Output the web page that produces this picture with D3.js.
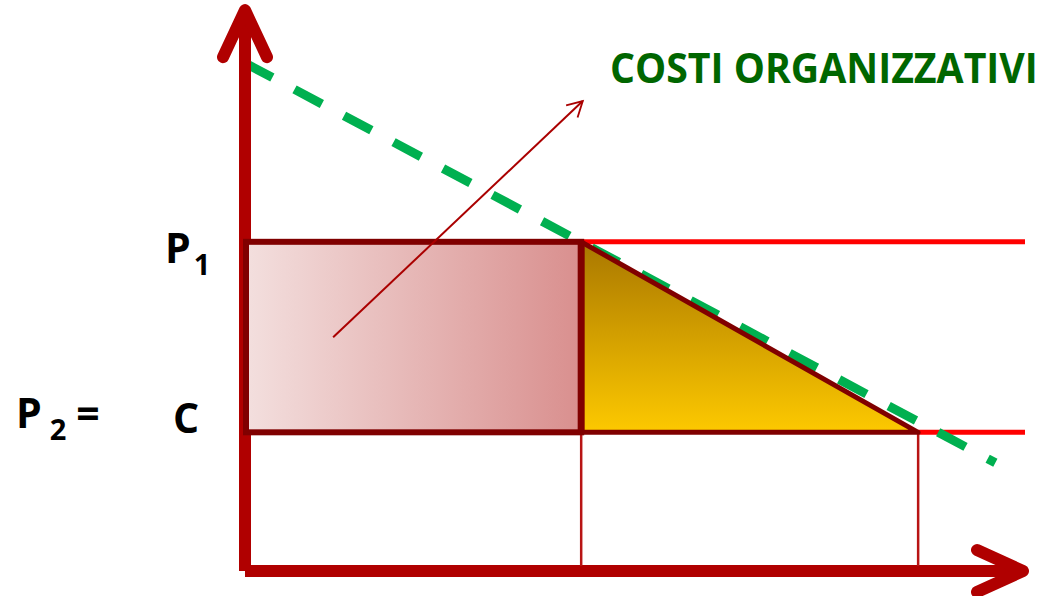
<!DOCTYPE html>
<html>
<head>
<meta charset="utf-8">
<script src="https://cdn.jsdelivr.net/npm/d3@7"></script>
<style>
  html, body { margin: 0; padding: 0; background: #fff; }
  svg { display: block; font-family: 'Open Sans', sans-serif; }
</style>
</head>
<body>
<svg class="diagram" width="1053" height="596"></svg>
<script>
// price levels (P1 and C = P2), quantities where they meet the demand curve
const priceLevels = [64.8, 27.3];
const priceNames = ['P1', 'C'];
const quantityLevels = [43.1, 86.3];
// demand / organisational cost line (dashed)
const demandLine = [[0, 100], [96.2, 21.3]];
// annotation arrow pointing at the label
const annotationArrow = [[11.3, 46], [43.3, 92.5]];
const axisMax = { q: 100, p: 110.8 };
const title = 'COSTI ORGANIZZATIVI';

const svg = d3.select('.diagram');

const x = d3.scaleLinear().domain([0, 100]).range([245, 1025]);
const y = d3.scaleLinear().domain([0, 100]).range([571, 63]);

const line = d3.line().x(d => x(d[0])).y(d => y(d[1]));

const defs = svg.append('defs');

const rectGrad = defs.append('linearGradient')
    .attr('id', 'rectGrad')
    .attr('x1', '0%').attr('x2', '100%').attr('y1', '0%').attr('y2', '0%');
rectGrad.append('stop').attr('offset', '0%').attr('stop-color', '#f3dfde');
rectGrad.append('stop').attr('offset', '100%').attr('stop-color', '#d98f8e');

const triGrad = defs.append('linearGradient')
    .attr('id', 'triGrad')
    .attr('x1', '0%').attr('x2', '0%').attr('y1', '0%').attr('y2', '100%');
triGrad.append('stop').attr('offset', '0%').attr('stop-color', '#a97700');
triGrad.append('stop').attr('offset', '100%').attr('stop-color', '#fdc900');

defs.append('marker')
    .attr('id', 'openArrow')
    .attr('viewBox', '0 0 12 12')
    .attr('refX', 10).attr('refY', 6)
    .attr('markerWidth', 10).attr('markerHeight', 10)
    .attr('markerUnits', 'strokeWidth')
    .attr('orient', 'auto')
    .append('path')
    .attr('d', 'M1,1 L10,6 L1,11')
    .attr('fill', 'none')
    .attr('stroke', '#aa0000')
    .attr('stroke-width', 1.1);

const [p1, c] = priceLevels;
const [q1, q2] = quantityLevels;

// red horizontal price lines
svg.append('line')
    .attr('x1', x(q1)).attr('x2', x(axisMax.q))
    .attr('y1', y(p1)).attr('y2', y(p1))
    .attr('stroke', '#ff0000').attr('stroke-width', 5);
svg.append('line')
    .attr('x1', x(q2)).attr('x2', x(axisMax.q))
    .attr('y1', y(c)).attr('y2', y(c))
    .attr('stroke', '#ff0000').attr('stroke-width', 5);

// dashed green line
svg.append('path')
    .attr('d', line(demandLine))
    .attr('fill', 'none')
    .attr('stroke', '#00b050')
    .attr('stroke-width', 9)
    .attr('stroke-dasharray', '31 25.1');

// axes with arrow heads
const axisColor = '#b00000';
const ax = svg.append('g')
    .attr('fill', 'none')
    .attr('stroke', axisColor)
    .attr('stroke-width', 12)
    .attr('stroke-linecap', 'round')
    .attr('stroke-linejoin', 'round');

ax.append('line')
    .attr('x1', x(0)).attr('x2', x(0))
    .attr('y1', y(0)).attr('y2', y(axisMax.p) + 4)
    .attr('stroke-linecap', 'butt');
ax.append('polyline')
    .attr('points', [
        [x(0) - 22, y(axisMax.p) + 49],
        [x(0), y(axisMax.p) + 2],
        [x(0) + 22, y(axisMax.p) + 49]
    ].join(' '));

ax.append('line')
    .attr('x1', x(0)).attr('x2', x(axisMax.q) - 4)
    .attr('y1', y(0)).attr('y2', y(0))
    .attr('stroke-linecap', 'butt');
ax.append('polyline')
    .attr('points', [
        [x(axisMax.q) - 48, y(0) - 21],
        [x(axisMax.q) - 2, y(0)],
        [x(axisMax.q) - 48, y(0) + 21]
    ].join(' '));

// thin drop lines
quantityLevels.forEach(q => {
    svg.append('line')
        .attr('x1', x(q)).attr('x2', x(q))
        .attr('y1', y(c)).attr('y2', y(0) - 5)
        .attr('stroke', '#b81414')
        .attr('stroke-width', 2.5);
});

// rectangle P1 - C
svg.append('rect')
    .attr('x', x(0) + 1)
    .attr('y', y(p1))
    .attr('width', x(q1) - x(0) - 1)
    .attr('height', y(c) - y(p1))
    .attr('fill', 'url(#rectGrad)')
    .attr('stroke', '#800000')
    .attr('stroke-width', 6);

// triangle
svg.append('path')
    .attr('d', line([[q1, p1], [q1, c], [q2, c]]) + 'Z')
    .attr('fill', 'url(#triGrad)')
    .attr('stroke', '#800000')
    .attr('stroke-width', 5)
    .attr('stroke-linejoin', 'round');

// thicker divider between rect and triangle
svg.append('line')
    .attr('x1', x(q1)).attr('x2', x(q1))
    .attr('y1', y(p1)).attr('y2', y(c))
    .attr('stroke', '#800000')
    .attr('stroke-width', 7);

// annotation arrow
svg.append('path')
    .attr('d', line(annotationArrow))
    .attr('fill', 'none')
    .attr('stroke', '#aa0000')
    .attr('stroke-width', 2)
    .attr('marker-end', 'url(#openArrow)');

// title, squeezed horizontally to the narrow width of the original font
const titleText = svg.append('text')
    .attr('fill', '#006600')
    .attr('font-weight', 700)
    .attr('font-size', 42)
    .text(title);
const natural = titleText.node().getComputedTextLength();
titleText.attr('transform', `translate(610,83) scale(${428 / natural},1)`);

const lab = svg.append('g')
    .attr('fill', '#000')
    .attr('font-weight', 700);

const p1Label = lab.append('text')
    .attr('x', 165)
    .attr('y', y(p1) + 21)
    .attr('font-size', 41);
p1Label.append('tspan').text('P');
p1Label.append('tspan')
    .attr('dx', 3).attr('dy', 12)
    .attr('font-size', 29)
    .text('1');

const p2Label = lab.append('text')
    .attr('x', 16)
    .attr('y', y(c) - 4)
    .attr('font-size', 41);
p2Label.append('tspan').text('P');
p2Label.append('tspan')
    .attr('dx', 8).attr('dy', 12)
    .attr('font-size', 29)
    .text('2');
p2Label.append('tspan')
    .attr('dx', 10).attr('dy', -12)
    .text('=');

lab.append('text')
    .attr('x', 173)
    .attr('y', y(c) + 1)
    .attr('font-size', 41)
    .text(priceNames[1]);
</script>
</body>
</html>
